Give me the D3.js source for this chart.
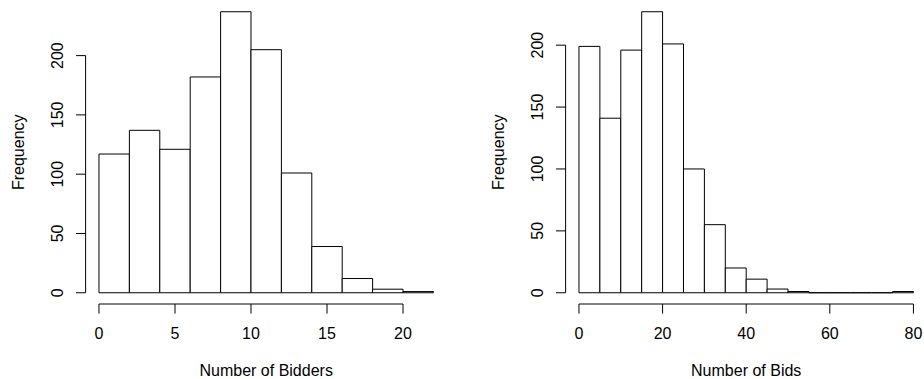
<!DOCTYPE html>
<html>
<head>
<meta charset="utf-8">
<script src="https://cdn.jsdelivr.net/npm/d3@7"></script>
<style>
  html, body { margin: 0; padding: 0; background: #fff; }
  svg { display: block; }
  text { font-family: "Liberation Sans", Arial, Helvetica, sans-serif; fill: #000; }
</style>
</head>
<body>
<svg id="chart" width="924" height="379"></svg>
<script>
// Histogram bin edges and counts
const bidderEdges = [0, 2, 4, 6, 8, 10, 12, 14, 16, 18, 20, 22];
const bidderCounts = [117, 137, 121, 182, 237, 205, 101, 39, 12, 3, 1];
const bidderTicks = [0, 5, 10, 15, 20];

const bidEdges = [0, 5, 10, 15, 20, 25, 30, 35, 40, 45, 50, 55, 60, 65, 70, 75, 80];
const bidCounts = [199, 141, 196, 227, 201, 100, 55, 20, 11, 3, 1, 0, 0, 0, 0, 1];
const bidTicks = [0, 20, 40, 60, 80];

const freqTicks = [0, 50, 100, 150, 200];

const panels = [
  { edges: bidderEdges, counts: bidderCounts, xTicks: bidderTicks, xTitle: "Number of Bidders", offset: 0 },
  { edges: bidEdges, counts: bidCounts, xTicks: bidTicks, xTitle: "Number of Bids", offset: 480 }
];

const svg = d3.select("#chart");
const plotLeft = 85.6, plotRight = 446.8, plotTop = 0.5, plotBottom = 304;
const fontSize = 16;
const tickLen = 9.6;

panels.forEach(p => {
  const g = svg.append("g").attr("transform", `translate(${p.offset},0)`);
  const xMin = p.edges[0], xMax = p.edges[p.edges.length - 1];
  const xPad = (xMax - xMin) * 0.04;
  const yMax = d3.max(p.counts);
  const yPad = yMax * 0.04;

  const x = d3.scaleLinear().domain([xMin - xPad, xMax + xPad]).range([plotLeft, plotRight]);
  const y = d3.scaleLinear().domain([-yPad, yMax + yPad]).range([plotBottom, plotTop]);

  const bins = p.counts.map((c, i) => ({ x0: p.edges[i], x1: p.edges[i + 1], n: c }));

  // bars as closed paths so empty bins still show as a line on the baseline
  g.selectAll("path.bar").data(bins).join("path")
    .attr("class", "bar")
    .attr("d", d => {
      const p0 = d3.path();
      p0.moveTo(x(d.x0), y(0));
      p0.lineTo(x(d.x0), y(d.n));
      p0.lineTo(x(d.x1), y(d.n));
      p0.lineTo(x(d.x1), y(0));
      p0.closePath();
      return p0.toString();
    })
    .attr("fill", "#fff")
    .attr("stroke", "#000")
    .attr("stroke-width", 1);

  // x axis: line spans first to last tick, drawn at bottom of plot region
  const xa = g.append("g");
  xa.append("line")
    .attr("x1", x(p.xTicks[0])).attr("x2", x(p.xTicks[p.xTicks.length - 1]))
    .attr("y1", plotBottom).attr("y2", plotBottom)
    .attr("stroke", "#000");
  xa.selectAll("line.tick").data(p.xTicks).join("line")
    .attr("class", "tick")
    .attr("x1", d => x(d)).attr("x2", d => x(d))
    .attr("y1", plotBottom).attr("y2", plotBottom + tickLen)
    .attr("stroke", "#000");
  xa.selectAll("text").data(p.xTicks).join("text")
    .attr("x", d => x(d)).attr("y", 338.5)
    .attr("text-anchor", "middle")
    .attr("font-size", fontSize)
    .text(d => d);

  // y axis at left edge of plot region
  const ya = g.append("g");
  ya.append("line")
    .attr("x1", plotLeft).attr("x2", plotLeft)
    .attr("y1", y(freqTicks[0])).attr("y2", y(freqTicks[freqTicks.length - 1]))
    .attr("stroke", "#000");
  ya.selectAll("line.tick").data(freqTicks).join("line")
    .attr("class", "tick")
    .attr("x1", plotLeft - tickLen).attr("x2", plotLeft)
    .attr("y1", d => y(d)).attr("y2", d => y(d))
    .attr("stroke", "#000");
  ya.selectAll("text").data(freqTicks).join("text")
    .attr("transform", d => `translate(${plotLeft - 23},${y(d)}) rotate(-90)`)
    .attr("text-anchor", "middle")
    .attr("font-size", fontSize)
    .text(d => d);

  // axis titles
  g.append("text")
    .attr("x", (plotLeft + plotRight) / 2).attr("y", 376)
    .attr("text-anchor", "middle")
    .attr("font-size", fontSize)
    .text(p.xTitle);
  g.append("text")
    .attr("transform", `translate(${plotLeft - 62},${(plotTop + plotBottom) / 2}) rotate(-90)`)
    .attr("text-anchor", "middle")
    .attr("font-size", fontSize)
    .text("Frequency");
});
</script>
</body>
</html>
